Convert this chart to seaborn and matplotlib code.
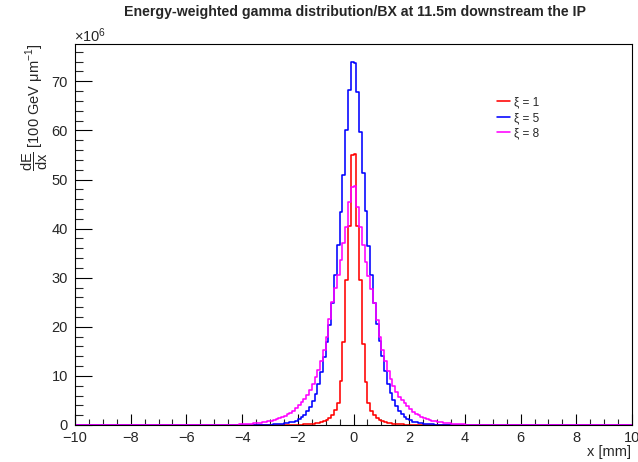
import numpy as np
import pandas as pd
import matplotlib
matplotlib.use("Agg")
import matplotlib.pyplot as plt
import seaborn as sns
from matplotlib.ticker import MultipleLocator

# ---------------- data (units of 1e6, 0.1 mm bins) ----------------
# values listed from the bin next to x=0 outward (bins 0..49 on each side, |x| < 5 mm)
red_left = [55.0, 40.5, 29.6, 17.0, 9.0, 4.5, 3.0, 2.1, 1.5, 1.1,
            0.8, 0.6, 0.45, 0.35, 0.27, 0.2, 0.15, 0.12, 0.09, 0.07,
            0.05, 0.04, 0.03, 0.02, 0.02, 0.01, 0, 0, 0, 0,
            0, 0, 0, 0, 0, 0, 0, 0, 0, 0,
            0, 0, 0, 0, 0, 0, 0, 0, 0, 0]
red_right = [55.2, 40.5, 29.6, 16.5, 8.8, 4.4, 2.9, 2.0, 1.4, 1.0,
             0.75, 0.55, 0.42, 0.32, 0.25, 0.19, 0.14, 0.11, 0.08, 0.06,
             0.05, 0.04, 0.03, 0.02, 0.01, 0.01, 0, 0, 0, 0,
             0, 0, 0, 0, 0, 0, 0, 0, 0, 0,
             0, 0, 0, 0, 0, 0, 0, 0, 0, 0]
blue_left = [74.0, 68.2, 60.0, 51.0, 43.3, 36.7, 30.6, 24.8, 20.3, 17.0,
             13.8, 10.8, 8.3, 6.4, 4.9, 3.7, 2.8, 2.1, 1.6, 1.2,
             0.9, 0.7, 0.54, 0.42, 0.33, 0.26, 0.2, 0.16, 0.12, 0.1,
             0.08, 0.06, 0.05, 0.04, 0.03, 0.02, 0.02, 0.01, 0.01, 0,
             0, 0, 0, 0, 0, 0, 0, 0, 0, 0]
blue_right = [73.8, 67.8, 59.6, 51.4, 43.5, 36.5, 30.6, 24.8, 20.5, 17.2,
              14.0, 11.0, 8.4, 6.5, 5.0, 3.8, 2.9, 2.15, 1.62, 1.22,
              0.92, 0.71, 0.55, 0.43, 0.34, 0.26, 0.2, 0.16, 0.12, 0.1,
              0.08, 0.06, 0.05, 0.04, 0.03, 0.02, 0.02, 0.01, 0.01, 0,
              0, 0, 0, 0, 0, 0, 0, 0, 0, 0]
mag_left = [48.4, 45.4, 40.4, 37.0, 33.6, 30.6, 28.0, 25.0, 21.5, 18.0,
            15.2, 13.0, 11.2, 9.7, 8.3, 7.1, 6.1, 5.3, 4.6, 4.0,
            3.4, 2.9, 2.5, 2.15, 1.85, 1.6, 1.38, 1.18, 1.0, 0.86,
            0.73, 0.62, 0.52, 0.44, 0.37, 0.31, 0.26, 0.21, 0.17, 0.14,
            0.11, 0.09, 0.07, 0.06, 0.05, 0.04, 0.03, 0.02, 0.02, 0.01]
mag_right = [48.6, 44.5, 40.4, 36.6, 33.3, 30.4, 27.8, 24.9, 21.4, 18.0,
             15.3, 13.0, 11.0, 9.4, 8.0, 6.8, 5.8, 5.0, 4.4, 3.8,
             3.2, 2.7, 2.3, 1.95, 1.65, 1.4, 1.2, 1.02, 0.87, 0.74,
             0.63, 0.53, 0.45, 0.38, 0.32, 0.27, 0.22, 0.18, 0.15, 0.12,
             0.1, 0.08, 0.06, 0.05, 0.04, 0.03, 0.02, 0.02, 0.01, 0.01]

labels = ["\u03be = 1", "\u03be = 5", "\u03be = 8"]
colors = ["#ff0000", "#0000ff", "#ff00ff"]

x_min, x_max, n_bins = -10.0, 10.0, 200
n_tail = 50  # empty bins outside |x| > 5 mm

def full_series(left, right):
    return np.array([0.0] * n_tail + list(left[::-1]) + list(right) + [0.0] * n_tail)

series = [full_series(red_left, red_right),
          full_series(blue_left, blue_right),
          full_series(mag_left, mag_right)]

edges = np.linspace(x_min, x_max, n_bins + 1)
centers = 0.5 * (edges[:-1] + edges[1:])

# ---------------- style ----------------
sns.set_theme(style="white")
plt.rcParams["font.family"] = ["Liberation Sans", "DejaVu Sans"]
plt.rcParams["mathtext.fontset"] = "custom"
plt.rcParams["mathtext.rm"] = "Liberation Sans"
plt.rcParams["mathtext.it"] = "Liberation Sans:italic"
plt.rcParams["mathtext.default"] = "regular"

W, H = 638, 462
fig = plt.figure(figsize=(W / 100, H / 100), dpi=100)
ax_left, ax_right, ax_top, ax_bottom = 75, 632, 44, 425
ax = fig.add_axes([ax_left / W, 1 - ax_bottom / H, (ax_right - ax_left) / W, (ax_bottom - ax_top) / H])

for vals, col, lab in zip(series, colors, labels):
    df = pd.DataFrame({"x": centers, "w": vals})
    sns.histplot(data=df, x="x", weights="w", bins=n_bins, binrange=(x_min, x_max),
                 element="step", fill=False, color=col, linewidth=1.15, ax=ax, label=lab)

ax.set_xlim(x_min, x_max)
ax.set_ylim(0, 77.6)
ax.set_xlabel("")
ax.set_ylabel("")

for s in ax.spines.values():
    s.set_color("black")
    s.set_linewidth(0.8)

ax.xaxis.set_major_locator(MultipleLocator(2))
ax.xaxis.set_minor_locator(MultipleLocator(0.5))
ax.yaxis.set_major_locator(MultipleLocator(10))
ax.yaxis.set_minor_locator(MultipleLocator(2))
ax.tick_params(axis="x", which="major", direction="in", length=8, width=0.8, labelsize=10.5,
               pad=4, bottom=True, top=False, color="black")
ax.tick_params(axis="x", which="minor", direction="in", length=4, width=0.8, bottom=True, top=False)
ax.tick_params(axis="y", which="major", direction="in", length=12, width=0.8, labelsize=10.5,
               pad=5, left=True, right=False, color="black")
ax.tick_params(axis="y", which="minor", direction="in", length=6, width=0.8, left=True, right=False)

fig.text(355 / W, 1 - 12 / H, "Energy-weighted gamma distribution/BX at 11.5m downstream the IP",
         ha="center", va="center", fontsize=10.2, fontweight="bold")
fig.text(74 / W, 1 - 42 / H, r"$\times$10$^{6}$", ha="left", va="baseline", fontsize=10.5)
fig.text(35 / W, 1 - 44 / H, r"$\dfrac{dE}{dx}$ [100 GeV $\mu$m$^{-1}$]", rotation=90,
         ha="center", va="top", fontsize=10.5)
fig.text(631 / W, 1 - 452 / H, "x [mm]", ha="right", va="center", fontsize=10.5)

leg = ax.legend(loc="upper left", bbox_to_anchor=(489 / W, 1 - 88 / H), bbox_transform=fig.transFigure,
                frameon=False, fontsize=8.5, handlelength=1.05, handletextpad=0.35, labelspacing=0.3,
                borderpad=0.2)

fig.savefig("out.png", dpi=100)
